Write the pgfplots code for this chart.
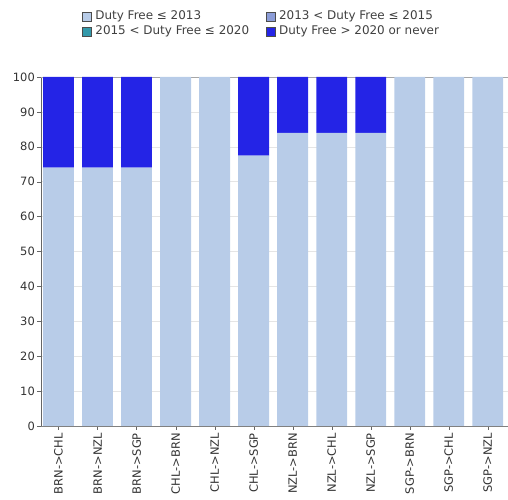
\documentclass[border=0pt]{standalone}
\usepackage{pgfplots}
\pgfplotsset{compat=1.18}
\usepackage{fontspec}
\setmainfont{DejaVu Sans}
\definecolor{cA}{HTML}{B8CCE8}
\definecolor{cB}{HTML}{8C9DD8}
\definecolor{cC}{HTML}{3399AA}
\definecolor{cD}{HTML}{2424E6}
\begin{document}
\begin{tikzpicture}[x=1bp,y=1bp]
\useasboundingbox (0,0) rectangle (508,500);
\begin{axis}[
  at={(41bp,74bp)}, anchor=south west,
  scale only axis, width=467bp, height=349bp,
  ybar stacked, bar width=0.79,
  xmin=-0.45, xmax=11.52, ymin=0, ymax=100,
  ytick={0,10,...,100},
  xtick={0,...,11},
  xticklabels={BRN->CHL,BRN->NZL,BRN->SGP,CHL->BRN,CHL->NZL,CHL->SGP,NZL->BRN,NZL->CHL,NZL->SGP,SGP->BRN,SGP->CHL,SGP->NZL},
  x tick label style={rotate=90, anchor=east, font=\fontsize{11.5}{11.5}\selectfont, text=black!80, inner sep=3bp},
  y tick label style={font=\fontsize{11.5}{11.5}\selectfont, text=black!80, inner sep=2bp},
  /pgf/number format/assume math mode=true,
  axis x line=bottom, axis y line=left,
  axis line style={-, gray!80!black},
  x axis line style={gray},
  tick align=outside, tick style={gray!80!black}, major tick length=4bp,
  ymajorgrids, grid style={gray!20},
  extra y ticks={100}, extra y tick labels={}, extra y tick style={grid style={gray!70}, major tick length=0pt},
  legend columns=2,
  legend cell align=left,
  legend style={at={(0.0878,1.189)}, anchor=north west, draw=none, fill=none,
    inner sep=0pt, outer sep=0pt, row sep=4bp,
    font=\fontsize{12}{13}\selectfont, text=black!75,
    nodes={text height=8.5bp, text depth=2.5bp, inner sep=0pt},
    /tikz/every odd column/.append style={column sep=4bp},
    /tikz/every even column/.append style={column sep=16.5bp}},
  legend image code/.code={\draw[#1, draw=gray!60!black] (0bp,-4.5bp) rectangle (9bp,4.5bp);},
]
\addplot[fill=cA, draw=none] coordinates {(0,74) (1,74) (2,74) (3,100) (4,100) (5,77.5) (6,84) (7,84) (8,84) (9,100) (10,100) (11,100)};
\addlegendentry{Duty Free ≤ 2013}
\addplot[fill=cB, draw=none] coordinates {(0,0) (1,0) (2,0) (3,0) (4,0) (5,0) (6,0) (7,0) (8,0) (9,0) (10,0) (11,0)};
\addlegendentry{2013 < Duty Free ≤ 2015}
\addplot[fill=cC, draw=none] coordinates {(0,0) (1,0) (2,0) (3,0) (4,0) (5,0) (6,0) (7,0) (8,0) (9,0) (10,0) (11,0)};
\addlegendentry{2015 < Duty Free ≤ 2020}
\addplot[fill=cD, draw=none] coordinates {(0,26) (1,26) (2,26) (3,0) (4,0) (5,22.5) (6,16) (7,16) (8,16) (9,0) (10,0) (11,0)};
\addlegendentry{Duty Free > 2020 or never}
\end{axis}
\end{tikzpicture}
\end{document}
